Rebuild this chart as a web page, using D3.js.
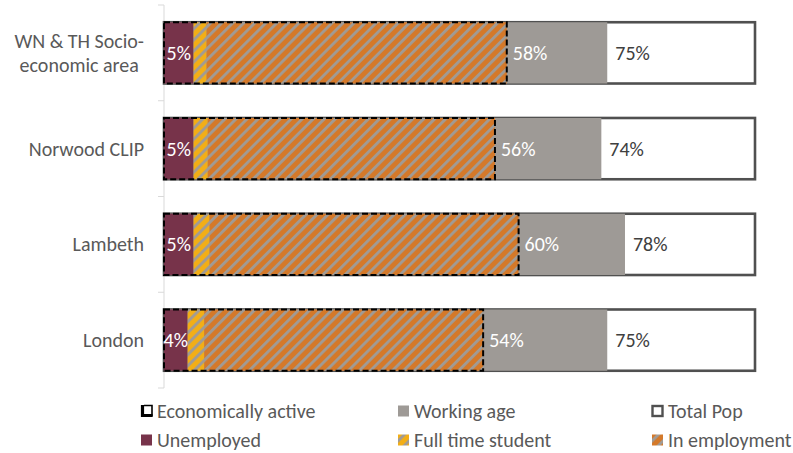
<!DOCTYPE html>
<html>
<head>
<meta charset="utf-8">
<script src="https://cdn.jsdelivr.net/npm/d3@7"></script>
<style>
  html, body { margin: 0; padding: 0; background: #fff; }
  svg { display: block; font-family: Calibri, Carlito, Lato, "Open Sans", sans-serif; }
</style>
</head>
<body>
<svg id="chart" width="793" height="453"></svg>
<script>
// Population breakdown by area (% of total population)
const categories   = ["WN & TH Socio-\neconomic area", "Norwood CLIP", "Lambeth", "London"];
const totalPop     = [100, 100, 100, 100];
const workingAge   = [75, 74, 78, 75];
const econActive   = [58, 56, 60, 54];
const unemployed   = [5, 5, 5, 4];
const student      = [2.2, 2.4, 2.7, 2.8];
const inEmployment = [50.8, 48.6, 52.3, 47.2];

const legendRows = [
  ["Economically active", "Working age", "Total Pop"],
  ["Unemployed", "Full time student", "In employment"]
];

const colors = {
  unemployed: "#77334a",
  working: "#9e9a96",
  student: "#f2ae17",
  employment: "#d4792a",
  stripe: "#a09b96",
  border: "#505050",
  text: "#595959"
};

const FONT = 20;
const svg = d3.select("#chart");

const x = d3.scaleLinear().domain([0, 100]).range([164, 755]);
const y = d3.scaleBand().domain(d3.range(categories.length))
  .range([5, 388]).paddingInner(0.36).paddingOuter(0.18);

// hatch patterns: diagonal grey stripes over a solid fill
const defs = svg.append("defs");
function hatch(id, fill) {
  const p = defs.append("pattern").attr("id", id)
    .attr("patternUnits", "userSpaceOnUse")
    .attr("width", 7.8).attr("height", 7.8)
    .attr("patternTransform", "rotate(45)");
  p.append("rect").attr("width", 7.8).attr("height", 7.8).attr("fill", fill);
  p.append("rect").attr("width", 2.8).attr("height", 7.8).attr("fill", colors.stripe);
}
hatch("hatch-student", colors.student);
hatch("hatch-employment", colors.employment);

// category axis
const axis = svg.append("g");
axis.append("line").attr("x1", x(0)).attr("x2", x(0))
  .attr("y1", y.range()[0]).attr("y2", y.range()[1])
  .attr("stroke", "#d9d9d9").attr("stroke-width", 1);
const bounds = d3.range(categories.length + 1).map(i => y.range()[0] + i * (y.range()[1] - y.range()[0]) / categories.length);
axis.selectAll("line.tick").data(bounds).join("line").attr("class", "tick")
  .attr("x1", x(0) - 6).attr("x2", x(0))
  .attr("y1", d => d).attr("y2", d => d)
  .attr("stroke", "#d9d9d9").attr("stroke-width", 1);

// category labels (multi-line labels centred within their block, block right-aligned)
const labelRight = 144;
categories.forEach((c, i) => {
  const lines = c.split("\n");
  const cy = y(i) + y.bandwidth() / 2;
  const lh = 24;
  const g = svg.append("g");
  const texts = lines.map((ln, j) => g.append("text")
    .attr("y", cy + (j - (lines.length - 1) / 2) * lh)
    .attr("dy", "0.35em")
    .attr("font-size", FONT).attr("fill", colors.text)
    .text(ln));
  const maxW = d3.max(texts, t => t.node().getComputedTextLength());
  texts.forEach(t => t.attr("x", labelRight - maxW / 2).attr("text-anchor", "middle"));
});

const idx = d3.range(categories.length);
const bh = y.bandwidth();

// total population
svg.append("g").selectAll("rect").data(idx).join("rect")
  .attr("x", x(0)).attr("y", i => y(i))
  .attr("width", i => x(totalPop[i]) - x(0)).attr("height", bh)
  .attr("fill", "#fff").attr("stroke", colors.border).attr("stroke-width", 2.6);

// working age
svg.append("g").selectAll("rect").data(idx).join("rect")
  .attr("x", x(0)).attr("y", i => y(i))
  .attr("width", i => x(workingAge[i]) - x(0)).attr("height", bh)
  .attr("fill", colors.working);

// economically active components
svg.append("g").selectAll("rect").data(idx).join("rect")
  .attr("x", x(0)).attr("y", i => y(i))
  .attr("width", i => x(unemployed[i]) - x(0)).attr("height", bh)
  .attr("fill", colors.unemployed);
svg.append("g").selectAll("rect").data(idx).join("rect")
  .attr("x", i => x(unemployed[i])).attr("y", i => y(i))
  .attr("width", i => x(unemployed[i] + student[i]) - x(unemployed[i])).attr("height", bh)
  .attr("fill", "url(#hatch-student)");
svg.append("g").selectAll("rect").data(idx).join("rect")
  .attr("x", i => x(unemployed[i] + student[i])).attr("y", i => y(i))
  .attr("width", i => x(unemployed[i] + student[i] + inEmployment[i]) - x(unemployed[i] + student[i])).attr("height", bh)
  .attr("fill", "url(#hatch-employment)");

// economically active outline
svg.append("g").selectAll("rect").data(idx).join("rect")
  .attr("x", x(0)).attr("y", i => y(i))
  .attr("width", i => x(econActive[i]) - x(0)).attr("height", bh)
  .attr("fill", "none").attr("stroke", "#000").attr("stroke-width", 2)
  .attr("stroke-dasharray", "6,3");

// value labels
const labels = svg.append("g").attr("font-size", FONT);
labels.selectAll("text.u").data(idx).join("text").attr("class", "u")
  .attr("x", i => (x(0) + x(unemployed[i])) / 2).attr("y", i => y(i) + bh / 2)
  .attr("dy", "0.35em").attr("text-anchor", "middle").attr("fill", "#fff")
  .text(i => unemployed[i] + "%");
labels.selectAll("text.e").data(idx).join("text").attr("class", "e")
  .attr("x", i => x(econActive[i]) + 6).attr("y", i => y(i) + bh / 2)
  .attr("dy", "0.35em").attr("fill", "#fff")
  .text(i => econActive[i] + "%");
labels.selectAll("text.w").data(idx).join("text").attr("class", "w")
  .attr("x", i => x(workingAge[i]) + 8).attr("y", i => y(i) + bh / 2)
  .attr("dy", "0.35em").attr("fill", "#404040")
  .text(i => workingAge[i] + "%");

// legend
const colX = [140, 397, 651];
const rowY = [411, 440];
const legend = svg.append("g").attr("font-size", FONT);
legendRows.forEach((row, r) => {
  row.forEach((name, c) => {
    const g = legend.append("g").attr("transform", `translate(${colX[c]},${rowY[r]})`);
    const s = 11;
    if (name === "Economically active") {
      // outline key: thin top/right edges, heavy left/bottom corner
      g.append("path")
        .attr("d", `M4,${-s / 2} H${s + 1} V${s / 2}`)
        .attr("fill", "none").attr("stroke", "#000").attr("stroke-width", 1.6);
      g.append("path")
        .attr("d", `M2.5,${-s / 2 - 0.5} V${s / 2 - 1} H${s + 1.5}`)
        .attr("fill", "none").attr("stroke", "#000").attr("stroke-width", 3.2);
    } else if (name === "Total Pop") {
      g.append("rect").attr("x", 1.5).attr("y", -s / 2 + 0.5).attr("width", s - 1).attr("height", s - 1)
        .attr("fill", "#fff").attr("stroke", colors.border).attr("stroke-width", 2.4);
    } else {
      const fill = name === "Unemployed" ? colors.unemployed
        : name === "Working age" ? colors.working
        : name === "Full time student" ? "url(#hatch-student)" : "url(#hatch-employment)";
      g.append("rect").attr("x", 1).attr("y", -s / 2).attr("width", s).attr("height", s).attr("fill", fill);
    }
    g.append("text").attr("x", 17).attr("dy", "0.35em").attr("fill", colors.text).text(name);
  });
});
</script>
</body>
</html>
